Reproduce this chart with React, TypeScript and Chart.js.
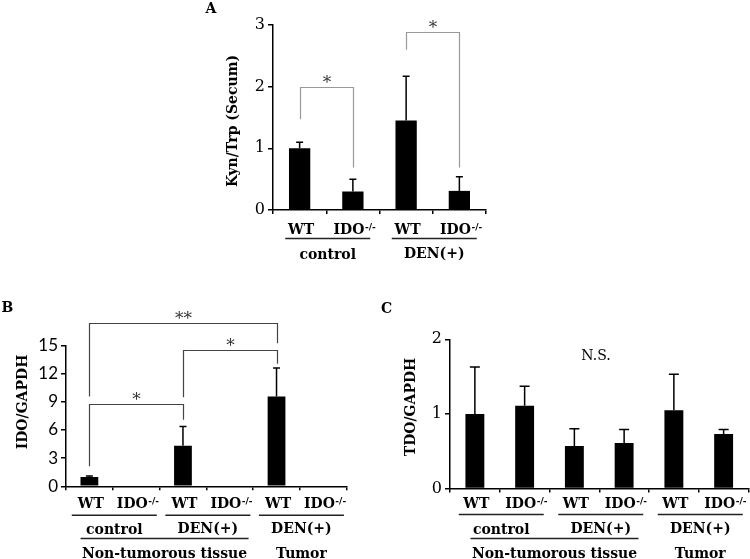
import React, { useEffect, useRef } from 'react';
import { Chart, registerables } from 'chart.js';

Chart.register(...registerables);

// ---------- Panel A : Kyn/Trp (Secum) ----------
const catsA = ['WT', 'IDO-/-', 'WT', 'IDO-/-'];
const valuesA = [1.0, 0.3, 1.45, 0.31];
const errTopA: (number | null)[] = [1.1, 0.5, 2.17, 0.54];
const ticksA = [0, 1, 2, 3];
const groupsA = ['control', 'DEN(+)'];
const groupSpanA = [2, 2];
// [fromIdx, toIdx, topValue, leftEndValue, rightEndValue, label]
const bracketsA: [number, number, number, number, number, string][] = [
  [0, 1, 1.99, 1.47, 0.69, '*'],
  [2, 3, 2.88, 2.6, 0.69, '*'],
];

// ---------- Panel B : IDO/GAPDH ----------
const catsBC = ['WT', 'IDO-/-', 'WT', 'IDO-/-', 'WT', 'IDO-/-'];
const valuesB = [1.0, 0, 4.33, 0, 9.57, 0];
const errTopB: (number | null)[] = [1.1, null, 6.38, null, 12.6, null];
const ticksB = [0, 3, 6, 9, 12, 15];
const bracketsB: [number, number, number, number, number, string][] = [
  [0, 2, 8.72, 2.13, 7.1, '*'],
  [2, 4, 14.54, 9.5, 13.05, '*'],
  [0, 4, 17.4, 9.57, 15.24, '**'],
];

// ---------- Panel C : TDO/GAPDH ----------
const valuesC = [1.0, 1.11, 0.57, 0.61, 1.05, 0.73];
const errTopC: (number | null)[] = [1.63, 1.37, 0.8, 0.79, 1.53, 0.79];
const ticksC = [0, 1, 2];

const groupsBC = ['control', 'DEN(+)', 'DEN(+)'];
const groupSpanBC = [2, 2, 2];
const supersBC = ['Non-tumorous tissue', 'Tumor'];
const superSpanBC = [4, 2];
const superLineBC = [true, false];

const SERIF = '"DejaVu Serif", serif';
const BOLD = `bold 14px ${SERIF}`;

type Rows = { wt: number; ul1: number; grp: number; ul2: number; sup: number };
type PanelCfg = {
  cats: string[];
  values: number[];
  errTop: (number | null)[];
  ticks: number[];
  yMax: number;
  area: { left: number; right: number; top: number; bottom: number };
  barPct: number;
  capW: number;
  tickFont: { family: string; size: number };
  brackets: [number, number, number, number, number, string][];
  bracketColor: string;
  starGap: number;
  groups: string[];
  groupSpan: number[];
  supers: string[] | null;
  superSpan: number[];
  superLine: boolean[];
  rows: Rows;
  title: string;
  titleX: number;
  titleY: number;
  letter: string;
  letterX: number;
  letterY: number;
  extra?: { text: string; x: number; y: number };
};

function textC(ctx: CanvasRenderingContext2D, txt: string, x: number, y: number, font: string, color = '#000') {
  ctx.font = font;
  ctx.fillStyle = color;
  ctx.textAlign = 'center';
  ctx.textBaseline = 'alphabetic';
  const m = ctx.measureText(txt);
  const asc = m.actualBoundingBoxAscent;
  const desc = m.actualBoundingBoxDescent;
  ctx.fillText(txt, x, y + (asc - desc) / 2);
}

function hline(ctx: CanvasRenderingContext2D, x1: number, x2: number, y: number) {
  ctx.beginPath();
  ctx.moveTo(x1, y);
  ctx.lineTo(x2, y);
  ctx.stroke();
}

function drawCatLabel(ctx: CanvasRenderingContext2D, label: string, cx: number, cy: number) {
  ctx.font = BOLD;
  ctx.fillStyle = '#000';
  ctx.textBaseline = 'alphabetic';
  ctx.textAlign = 'left';
  const capAsc = ctx.measureText('WT').actualBoundingBoxAscent;
  const base = cy + capAsc / 2;
  if (label.includes('-/-')) {
    const main = label.replace('-/-', '');
    const sup = '-/-';
    const wMain = ctx.measureText(main).width;
    ctx.font = `bold 9px ${SERIF}`;
    const wSup = ctx.measureText(sup).width;
    const start = cx - (wMain + wSup) / 2;
    ctx.font = BOLD;
    ctx.fillText(main, start, base);
    ctx.font = `bold 9px ${SERIF}`;
    ctx.fillText(sup, start + wMain + 0.5, base - 4.5);
  } else {
    const w = ctx.measureText(label).width;
    ctx.fillText(label, cx - w / 2, base);
  }
}

function makeDeco(cfg: PanelCfg) {
  return {
    id: 'deco',
    afterDraw(chart: any) {
      const ctx: CanvasRenderingContext2D = chart.ctx;
      const xs = chart.scales.x;
      const ys = chart.scales.y;
      const bottom = chart.chartArea.bottom;
      const cx = (i: number) => xs.getPixelForValue(i);
      const catW = cx(1) - cx(0);
      ctx.save();

      // error bars (upper only)
      ctx.strokeStyle = '#000';
      ctx.lineWidth = 1.5;
      cfg.errTop.forEach((e, i) => {
        if (e == null) return;
        const x = cx(i);
        const y0 = ys.getPixelForValue(cfg.values[i]);
        const y1 = ys.getPixelForValue(e);
        ctx.beginPath();
        ctx.moveTo(x, y0);
        ctx.lineTo(x, y1);
        ctx.moveTo(x - cfg.capW / 2, y1);
        ctx.lineTo(x + cfg.capW / 2, y1);
        ctx.stroke();
      });

      // significance brackets
      cfg.brackets.forEach(([a, b, top, lEnd, rEnd, lab]) => {
        const xa = Math.round(cx(a)) + 0.5;
        const xb = Math.round(cx(b)) + 0.5;
        const yt = Math.round(ys.getPixelForValue(top)) + 0.5;
        ctx.strokeStyle = cfg.bracketColor;
        ctx.lineWidth = 1.2;
        ctx.beginPath();
        ctx.moveTo(xa, ys.getPixelForValue(lEnd));
        ctx.lineTo(xa, yt);
        ctx.lineTo(xb, yt);
        ctx.lineTo(xb, ys.getPixelForValue(rEnd));
        ctx.stroke();
        textC(ctx, lab, (xa + xb) / 2, yt - cfg.starGap, `17px ${SERIF}`, '#333');
      });

      // category labels
      cfg.cats.forEach((c, i) => drawCatLabel(ctx, c, cx(i) + 1.5, bottom + cfg.rows.wt));

      // groups
      ctx.strokeStyle = '#222';
      ctx.lineWidth = 1.5;
      let k = 0;
      cfg.groups.forEach((g, gi) => {
        const span = cfg.groupSpan[gi];
        const l = cx(k) - catW / 2;
        const r = cx(k + span - 1) + catW / 2;
        const m = (l + r) / 2;
        hline(ctx, m + 1.5 - 42.5, m + 1.5 + 42.5, bottom + cfg.rows.ul1);
        textC(ctx, g, m + 1.5, bottom + cfg.rows.grp, BOLD);
        k += span;
      });

      if (cfg.supers) {
        k = 0;
        cfg.supers.forEach((s, si) => {
          const span = cfg.superSpan[si];
          const l = cx(k) - catW / 2;
          const r = cx(k + span - 1) + catW / 2;
          const m = (l + r) / 2;
          if (cfg.superLine[si]) {
            hline(ctx, m + 5 - 84, m + 5 + 84, bottom + cfg.rows.ul2);
            textC(ctx, s, m + 5, bottom + cfg.rows.sup, BOLD);
          } else {
            textC(ctx, s, m + 1.5, bottom + cfg.rows.sup, BOLD);
          }
          k += span;
        });
      }

      // axis title (rotated)
      ctx.save();
      ctx.translate(cfg.titleX, cfg.titleY);
      ctx.rotate(-Math.PI / 2);
      textC(ctx, cfg.title, 0, 0, BOLD);
      ctx.restore();

      // panel letter
      textC(ctx, cfg.letter, cfg.letterX, cfg.letterY, `bold 14px ${SERIF}`);

      if (cfg.extra) textC(ctx, cfg.extra.text, cfg.extra.x, cfg.extra.y, `14px ${SERIF}`);

      ctx.restore();
    },
  };
}

const W = 750;
const H = 559;
const YW = 50;
const XH = 10;

function buildChart(canvas: HTMLCanvasElement, cfg: PanelCfg) {
  const a = cfg.area;
  return new Chart(canvas, {
    type: 'bar',
    data: {
      labels: cfg.cats,
      datasets: [
        {
          data: cfg.values,
          backgroundColor: '#000',
          borderWidth: 0,
          barPercentage: cfg.barPct,
          categoryPercentage: 1,
        },
      ],
    },
    options: {
      animation: false,
      responsive: false,
      devicePixelRatio: 1,
      events: [],
      layout: {
        autoPadding: false,
        padding: { left: a.left - YW, right: W - a.right, top: a.top, bottom: H - a.bottom - XH },
      },
      plugins: { legend: { display: false }, tooltip: { enabled: false }, title: { display: false } },
      scales: {
        x: {
          type: 'category',
          offset: true,
          grid: { offset: true, drawOnChartArea: false, drawTicks: true, tickLength: 4, color: '#000', lineWidth: 1.5 },
          border: { display: true, color: '#000', width: 1.5 },
          ticks: { display: false },
          afterFit: (s: any) => {
            s.height = XH;
          },
        },
        y: {
          min: 0,
          max: cfg.yMax,
          grid: { drawOnChartArea: false, drawTicks: true, tickLength: 5, color: '#000', lineWidth: 1.5 },
          border: { display: true, color: '#000', width: 1.5 },
          ticks: { font: cfg.tickFont, color: '#000', padding: 3 },
          afterBuildTicks: (s: any) => {
            s.ticks = cfg.ticks.map((v) => ({ value: v }));
          },
          afterFit: (s: any) => {
            s.width = YW;
          },
        },
      },
    } as any,
    plugins: [makeDeco(cfg)],
  });
}

const cfgA: PanelCfg = {
  cats: catsA,
  values: valuesA,
  errTop: errTopA,
  ticks: ticksA,
  yMax: 3,
  area: { left: 273, right: 486, top: 25, bottom: 210 },
  barPct: 0.4,
  capW: 7,
  tickFont: { family: SERIF, size: 16 },
  brackets: bracketsA,
  bracketColor: '#999',
  starGap: 9,
  groups: groupsA,
  groupSpan: groupSpanA,
  supers: null,
  superSpan: [],
  superLine: [],
  rows: { wt: 18.5, ul1: 28.5, grp: 43, ul2: 0, sup: 0 },
  title: 'Kyn/Trp (Secum)',
  titleX: 232.5,
  titleY: 121,
  letter: 'A',
  letterX: 211,
  letterY: 7,
};

const cfgB: PanelCfg = {
  cats: catsBC,
  values: valuesB,
  errTop: errTopB,
  ticks: ticksB,
  yMax: 15,
  area: { left: 66, right: 346.7, top: 345.5, bottom: 486.3 },
  barPct: 0.38,
  capW: 7,
  tickFont: { family: 'Lato, sans-serif', size: 17 },
  brackets: bracketsB,
  bracketColor: '#444',
  starGap: 9,
  groups: groupsBC,
  groupSpan: groupSpanBC,
  supers: supersBC,
  superSpan: superSpanBC,
  superLine: superLineBC,
  rows: { wt: 16.2, ul1: 29, grp: 42.4, ul2: 52.2, sup: 66.2 },
  title: 'IDO/GAPDH',
  titleX: 22.5,
  titleY: 402,
  letter: 'B',
  letterX: 7.5,
  letterY: 306.5,
};

const cfgC: PanelCfg = {
  cats: catsBC,
  values: valuesC,
  errTop: errTopC,
  ticks: ticksC,
  yMax: 2,
  area: { left: 450, right: 748.5, top: 339.3, bottom: 488.5 },
  barPct: 0.38,
  capW: 10,
  tickFont: { family: SERIF, size: 16 },
  brackets: [],
  bracketColor: '#444',
  starGap: 9,
  groups: groupsBC,
  groupSpan: groupSpanBC,
  supers: supersBC,
  superSpan: superSpanBC,
  superLine: superLineBC,
  rows: { wt: 14, ul1: 26, grp: 40, ul2: 50, sup: 64 },
  title: 'TDO/GAPDH',
  titleX: 410,
  titleY: 407,
  letter: 'C',
  letterX: 386.5,
  letterY: 307,
  extra: { text: 'N.S.', x: 596, y: 354 },
};

function Panel({ cfg }: { cfg: PanelCfg }) {
  const ref = useRef<HTMLCanvasElement | null>(null);
  useEffect(() => {
    if (!ref.current) return;
    const ch = buildChart(ref.current, cfg);
    return () => ch.destroy();
  }, [cfg]);
  return (
    <canvas
      ref={ref}
      width={W}
      height={H}
      style={{ position: 'absolute', left: 0, top: 0, width: W, height: H, pointerEvents: 'none' }}
    />
  );
}

export default function App() {
  return (
    <div style={{ position: 'fixed', left: 0, top: 0, width: W, height: H, background: '#fff', overflow: 'hidden' }}>
      <Panel cfg={cfgA} />
      <Panel cfg={cfgB} />
      <Panel cfg={cfgC} />
    </div>
  );
}
